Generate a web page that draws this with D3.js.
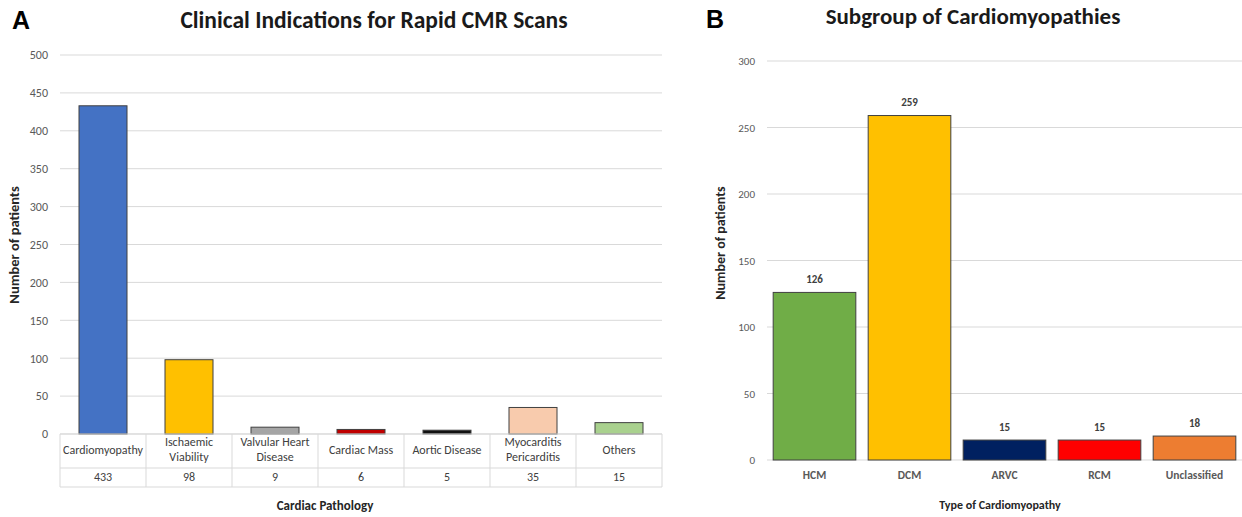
<!DOCTYPE html>
<html><head><meta charset="utf-8">
<script src="https://cdn.jsdelivr.net/npm/d3@7"></script>
<style>body{margin:0;background:#fff}svg{display:block}text{font-family:Carlito,Lato,"Open Sans",sans-serif}</style>
</head><body><svg id="c" width="1242" height="517"></svg>
<script>
const catsA = ["Cardiomyopathy","Ischaemic Viability","Valvular Heart Disease","Cardiac Mass","Aortic Disease","Myocarditis Pericarditis","Others"];
const labelLinesA = [["Cardiomyopathy"],["Ischaemic","Viability"],["Valvular Heart","Disease"],["Cardiac Mass"],["Aortic Disease"],["Myocarditis","Pericarditis"],["Others"]];
const valuesA = [433,98,9,6,5,35,15];
const colorsA = ["#4472C4","#FFC000","#A5A5A5","#C00000","#111111","#F8CBAD","#A9D18E"];
const ticksA = [0,50,100,150,200,250,300,350,400,450,500];

const catsB = ["HCM","DCM","ARVC","RCM","Unclassified"];
const valuesB = [126,259,15,15,18];
const colorsB = ["#70AD47","#FFC000","#002060","#FF0000","#ED7D31"];
const ticksB = [0,50,100,150,200,250,300];

const svg = d3.select("#c");
const grid = "#d9d9d9", tickCol = "#595959", outline = "#404040";

// ---------- Panel A ----------
const xA = d3.scaleBand().domain(catsA).range([60,662]).paddingInner(0).paddingOuter(0);
const yA = d3.scaleLinear().domain([0,500]).range([434,55]);
const gA = svg.append("g");
gA.selectAll("line.g").data(ticksA).join("line")
  .attr("x1",60).attr("x2",662).attr("y1",d=>yA(d)).attr("y2",d=>yA(d))
  .attr("stroke",grid).attr("stroke-width",1);
gA.append("g").attr("transform","translate(56,0)")
  .call(d3.axisLeft(yA).tickValues(ticksA).tickSize(0).tickPadding(8))
  .call(g=>g.select(".domain").remove())
  .call(g=>g.selectAll("text").attr("fill",tickCol).attr("font-size",12).style("font-family","Carlito,Lato,sans-serif"));
const bwA = 48;
gA.selectAll("rect.b").data(valuesA).join("rect")
  .attr("x",(d,i)=>xA(catsA[i])+xA.bandwidth()/2-bwA/2)
  .attr("width",bwA)
  .attr("y",d=>yA(d)).attr("height",d=>yA(0)-yA(d))
  .attr("fill",(d,i)=>colorsA[i]).attr("stroke",outline).attr("stroke-width",1);
// table
const tTop=434, tMid=468, tBot=487;
[tTop,tMid,tBot].forEach(y=>gA.append("line").attr("x1",60).attr("x2",662).attr("y1",y).attr("y2",y).attr("stroke",grid));
xA.domain().concat(["end"]).forEach((c,i)=>{
  const x = i<catsA.length ? xA(c) : 662;
  gA.append("line").attr("x1",x).attr("x2",x).attr("y1",tTop).attr("y2",tBot).attr("stroke",grid);
});
labelLinesA.forEach((lines,i)=>{
  const cx = xA(catsA[i])+xA.bandwidth()/2;
  const t = gA.append("text").attr("x",cx).attr("text-anchor","middle").attr("fill","#404040").attr("font-size",12);
  const y0 = lines.length===1 ? 451 : 443.5;
  lines.forEach((l,j)=>t.append("tspan").attr("x",cx).attr("y",y0+j*15).attr("dominant-baseline","middle").text(l));
  gA.append("text").attr("x",cx).attr("y",478).attr("dominant-baseline","middle").attr("text-anchor","middle")
    .attr("fill","#404040").attr("font-size",12).text(valuesA[i]);
});
gA.append("text").attr("x",325).attr("y",507).attr("dominant-baseline","middle").attr("text-anchor","middle")
  .attr("font-weight","bold").attr("font-size",13).attr("fill","#262626").text("Cardiac Pathology");
gA.append("text").attr("transform","translate(15,245) rotate(-90)").attr("dominant-baseline","middle").attr("text-anchor","middle")
  .attr("font-weight","bold").attr("font-size",14.5).attr("fill","#262626").text("Number of patients");
gA.append("text").attr("x",374).attr("y",22).attr("dominant-baseline","middle").attr("text-anchor","middle")
  .attr("font-weight","bold").attr("font-size",23.5).attr("fill","#1a1a1a").text("Clinical Indications for Rapid CMR Scans");
gA.append("text").attr("x",12).attr("y",22).attr("dominant-baseline","middle")
  .attr("font-weight","bold").attr("font-size",25).attr("fill","#000").style("font-family","Liberation Sans,Arial,sans-serif").text("A");

// ---------- Panel B ----------
const xB = d3.scaleBand().domain(catsB).range([767,1242]).paddingInner(0.13).paddingOuter(0.065);
const yB = d3.scaleLinear().domain([0,300]).range([460,61]);
const gB = svg.append("g");
gB.selectAll("line.g").data(ticksB).join("line")
  .attr("x1",767).attr("x2",1242).attr("y1",d=>yB(d)).attr("y2",d=>yB(d))
  .attr("stroke",grid).attr("stroke-width",1);
gB.append("g").attr("transform","translate(763,0)")
  .call(d3.axisLeft(yB).tickValues(ticksB).tickSize(0).tickPadding(8))
  .call(g=>g.select(".domain").remove())
  .call(g=>g.selectAll("text").attr("fill",tickCol).attr("font-size",11).style("font-family","Carlito,Lato,sans-serif"));
gB.selectAll("rect.b").data(valuesB).join("rect")
  .attr("x",(d,i)=>xB(catsB[i])).attr("width",xB.bandwidth())
  .attr("y",d=>yB(d)).attr("height",d=>yB(0)-yB(d))
  .attr("fill",(d,i)=>colorsB[i]).attr("stroke",outline).attr("stroke-width",1);
gB.selectAll("text.v").data(valuesB).join("text")
  .attr("x",(d,i)=>xB(catsB[i])+xB.bandwidth()/2).attr("y",d=>yB(d)-12)
  .attr("dominant-baseline","middle").attr("text-anchor","middle")
  .attr("font-weight","bold").attr("font-size",11).attr("fill","#404040").text(d=>d);
gB.selectAll("text.c").data(catsB).join("text")
  .attr("x",d=>xB(d)+xB.bandwidth()/2).attr("y",476)
  .attr("dominant-baseline","middle").attr("text-anchor","middle")
  .attr("font-weight","bold").attr("font-size",11.5).attr("fill","#595959").text(d=>d);
gB.append("text").attr("x",1000).attr("y",506).attr("dominant-baseline","middle").attr("text-anchor","middle")
  .attr("font-weight","bold").attr("font-size",12).attr("fill","#262626").text("Type of Cardiomyopathy");
gB.append("text").attr("transform","translate(722,243) rotate(-90)").attr("dominant-baseline","middle").attr("text-anchor","middle")
  .attr("font-weight","bold").attr("font-size",14).attr("fill","#262626").text("Number of patients");
gB.append("text").attr("x",973).attr("y",18).attr("dominant-baseline","middle").attr("text-anchor","middle")
  .attr("font-weight","bold").attr("font-size",23).attr("fill","#1a1a1a").text("Subgroup of Cardiomyopathies");
gB.append("text").attr("x",706).attr("y",21).attr("dominant-baseline","middle")
  .attr("font-weight","bold").attr("font-size",25).attr("fill","#000").style("font-family","Liberation Sans,Arial,sans-serif").text("B");
</script></body></html>
